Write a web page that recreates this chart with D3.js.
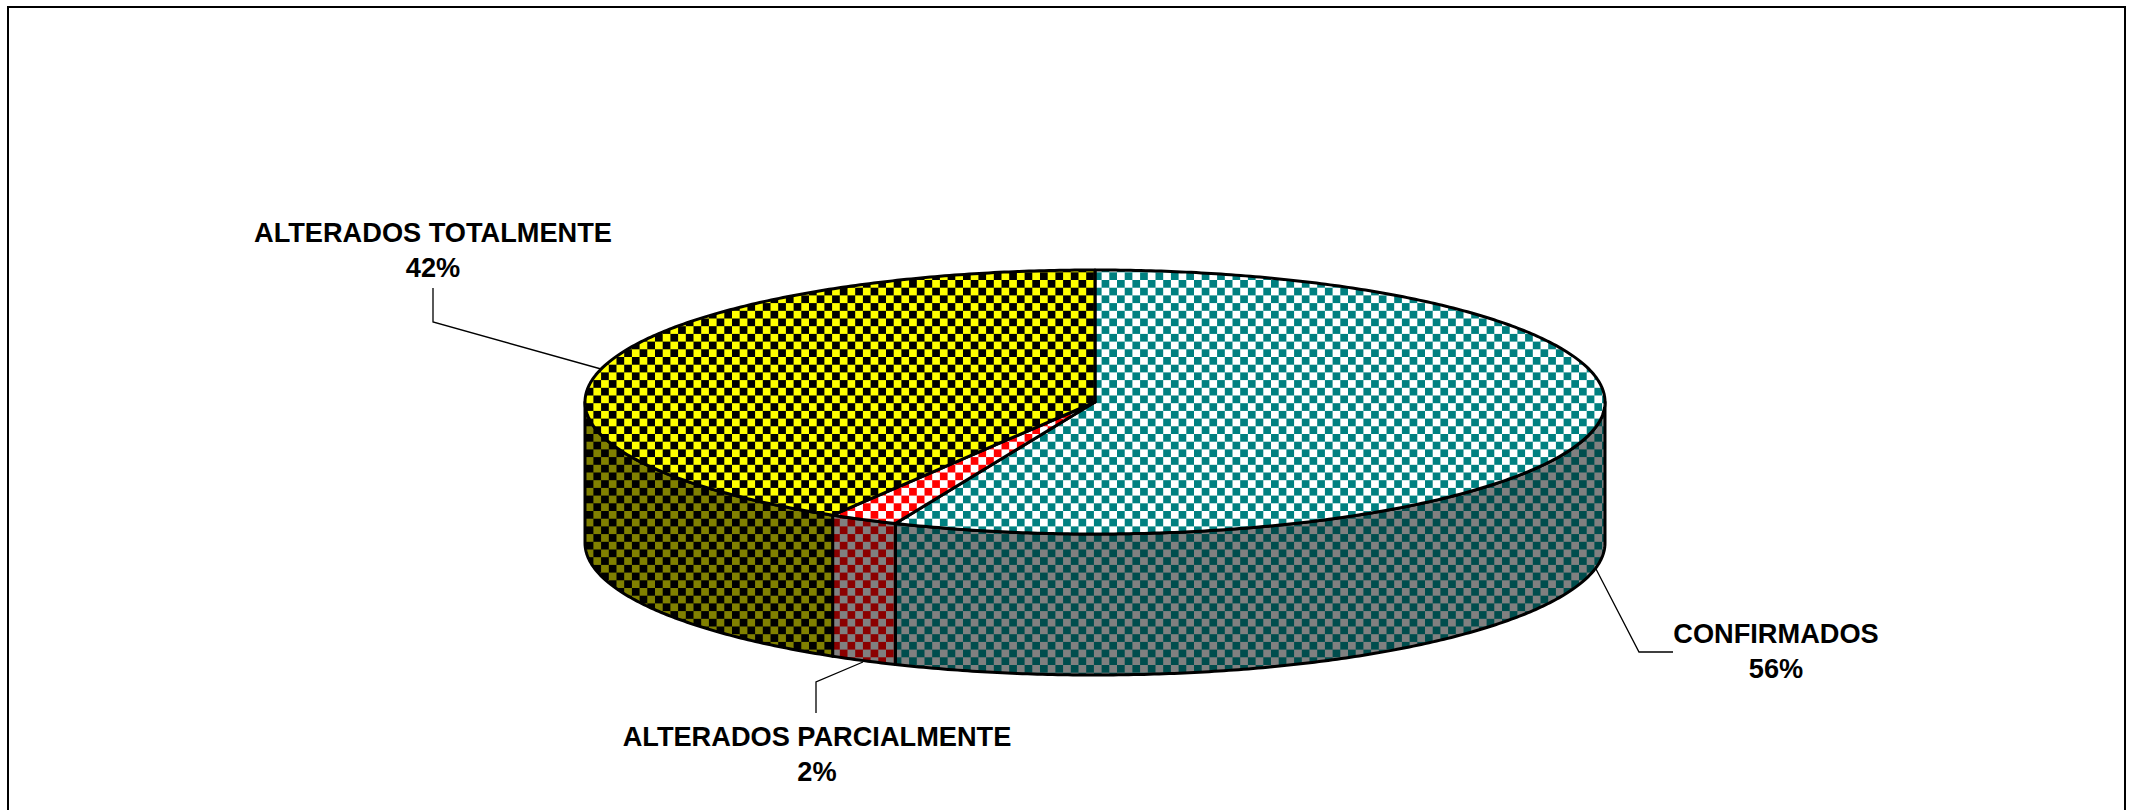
<!DOCTYPE html>
<html>
<head>
<meta charset="utf-8">
<style>
    html, body { margin: 0; padding: 0; background: #fff; overflow: hidden; }
    svg { display: block; }
    text { font-family: "Liberation Sans", Arial, sans-serif; font-weight: bold; font-size: 27.2px; fill: #000; }
</style>
<script src="https://cdnjs.cloudflare.com/ajax/libs/d3/7.8.5/d3.min.js"></script>
</head>
<body>
<div id="chart"></div>
<script>
var categories = ['CONFIRMADOS', 'ALTERADOS PARCIALMENTE', 'ALTERADOS TOTALMENTE'];
var shares = [56.4, 2.2, 41.4];
var shareLabels = ['56%', '2%', '42%'];

var topColors = [['#ffffff', '#008080'], ['#ffffff', '#ff0000'], ['#000000', '#ffff00']];
var wallColors = [['#808080', '#004d4d'], ['#808080', '#8b0000'], ['#000000', '#808000']];

// label centre, then leader line from the label to the pie
var labelCenters = [[1776, 633], [817, 736], [433, 232]];
var leaders = [
    [[1673, 652], [1639, 652], [1596, 569]],
    [[816, 713], [816, 682], [863, 662]],
    [[433, 288], [433, 322], [601, 369]]
];

(function () {
    'use strict';

    var width = 2129;
    var height = 810;
    var depth = 141;
    var lineHeight = 35;
    var cellSize = 7.7;

    var x = d3.scaleLinear().domain([-1, 1]).range([585, 1605]);
    var y = d3.scaleLinear().domain([-1, 1]).range([270, 534]);

    var svg = d3.select('#chart').append('svg')
        .attr('width', width)
        .attr('height', height);

    var slices = d3.pie().sort(null).value(function (d) { return d; })(shares);

    addPatterns('top', topColors);
    addPatterns('wall', wallColors);

    svg.append('rect')
        .attr('x', 8)
        .attr('y', 7)
        .attr('width', 2117)
        .attr('height', 830)
        .attr('fill', 'none')
        .attr('stroke', '#000')
        .attr('stroke-width', 2);

    // leaders go first, the pie covers their ends
    var leaderLine = d3.line();
    svg.selectAll('path.leader')
        .data(leaders)
        .enter().append('path')
        .attr('class', 'leader')
        .attr('d', leaderLine)
        .attr('fill', 'none')
        .attr('stroke', '#000')
        .attr('stroke-width', 1.3);

    svg.selectAll('path.wall')
        .data(slices)
        .enter().append('path')
        .attr('class', 'wall')
        .attr('d', wallPath)
        .attr('fill', function (d, i) { return 'url(#wall' + i + ')'; })
        .attr('stroke', '#000')
        .attr('stroke-width', 3)
        .attr('stroke-linejoin', 'round');

    svg.selectAll('path.top')
        .data(slices)
        .enter().append('path')
        .attr('class', 'top')
        .attr('d', topPath)
        .attr('fill', function (d, i) { return 'url(#top' + i + ')'; })
        .attr('stroke', '#000')
        .attr('stroke-width', 3)
        .attr('stroke-linejoin', 'round');

    var labels = svg.selectAll('text')
        .data(categories)
        .enter().append('text')
        .attr('text-anchor', 'middle')
        .attr('x', function (d, i) { return labelCenters[i][0]; })
        .attr('y', function (d, i) { return labelCenters[i][1]; });

    labels.append('tspan')
        .attr('x', function (d, i) { return labelCenters[i][0]; })
        .attr('dy', '0.35em')
        .text(function (d) { return d; });

    labels.append('tspan')
        .attr('x', function (d, i) { return labelCenters[i][0]; })
        .attr('dy', lineHeight)
        .text(function (d, i) { return shareLabels[i]; });

    function addPatterns(prefix, colors) {
        var defs = svg.append('defs');
        colors.forEach(function (pair, i) {
            var pattern = defs.append('pattern')
                .attr('id', prefix + i)
                .attr('patternUnits', 'userSpaceOnUse')
                .attr('x', 1055.4)
                .attr('y', 272.3)
                .attr('width', cellSize * 2)
                .attr('height', cellSize * 2);
            pattern.append('rect')
                .attr('width', cellSize * 2)
                .attr('height', cellSize * 2)
                .attr('fill', pair[1]);
            pattern.append('rect')
                .attr('width', cellSize)
                .attr('height', cellSize)
                .attr('fill', pair[0]);
            pattern.append('rect')
                .attr('x', cellSize)
                .attr('y', cellSize)
                .attr('width', cellSize)
                .attr('height', cellSize)
                .attr('fill', pair[0]);
        });
    }

    function rimPoints(start, end) {
        var steps = Math.max(2, Math.ceil((end - start) / 0.01));
        return d3.range(steps + 1).map(function (i) {
            var angle = start + (end - start) * i / steps;
            return [x(Math.sin(angle)), y(-Math.cos(angle))];
        });
    }

    function topPath(d) {
        var points = [[x(0), y(0)]].concat(rimPoints(d.startAngle, d.endAngle));
        return d3.line()(points) + 'Z';
    }

    // only the front half of the rim has a visible wall
    function wallPath(d) {
        var start = Math.max(d.startAngle, Math.PI / 2);
        var end = Math.min(d.endAngle, Math.PI * 1.5);
        var rim = rimPoints(start, end);
        var lower = rim.slice().reverse().map(function (p) {
            return [p[0], p[1] + depth];
        });
        return d3.line()(rim.concat(lower)) + 'Z';
    }
})();
</script>
</body>
</html>
